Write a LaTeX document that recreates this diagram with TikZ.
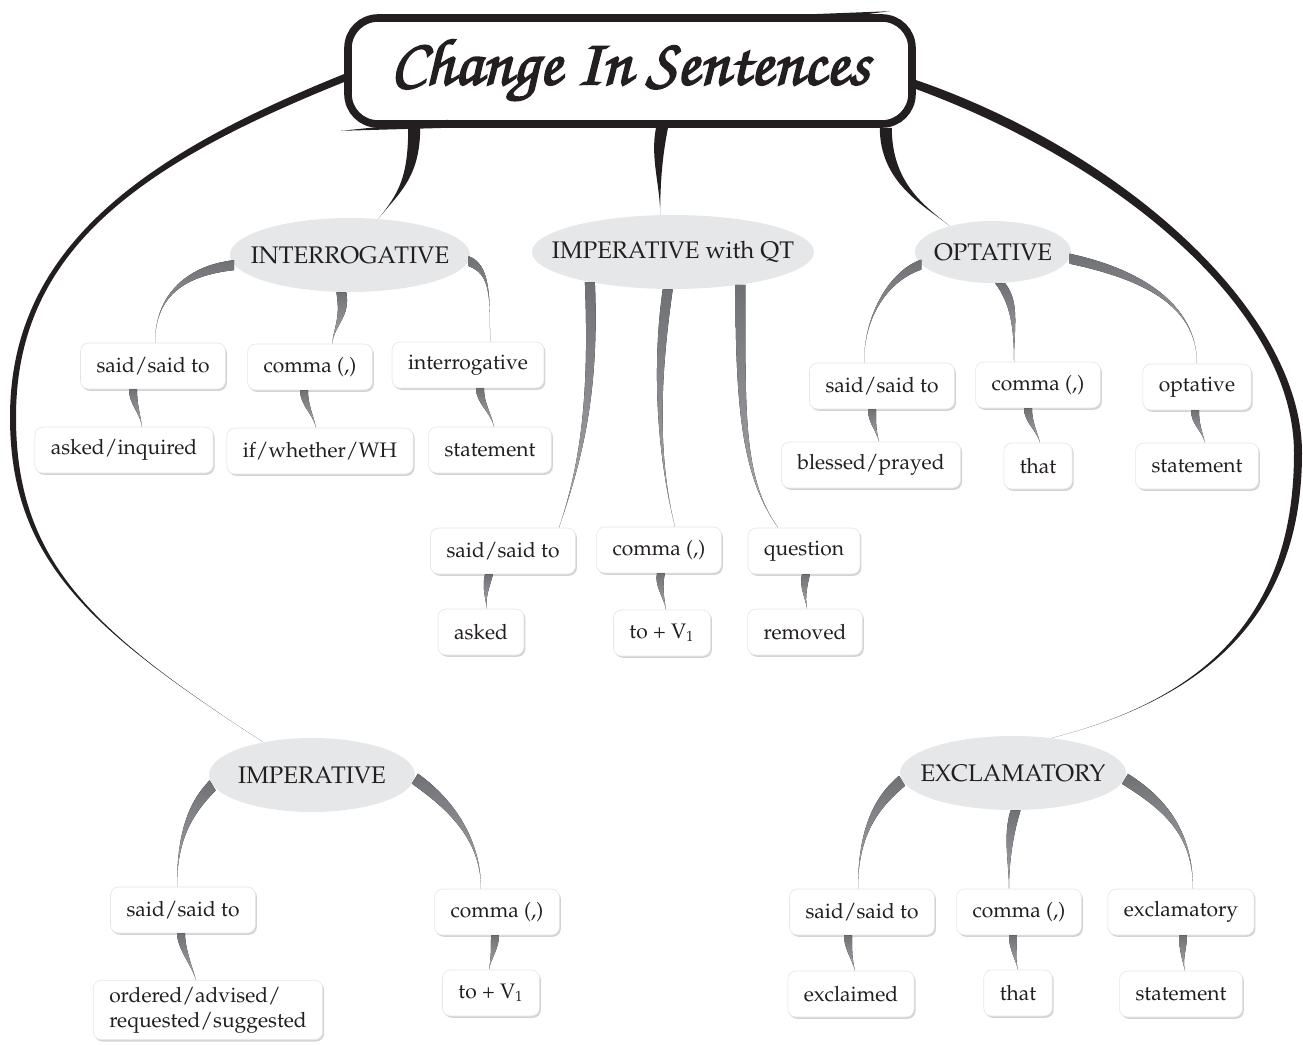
\documentclass[tikz,border=0pt]{standalone}
\usepackage[T1]{fontenc}
\renewcommand{\rmdefault}{ppl}
\usetikzlibrary{shapes.geometric,shadows,calc}
\definecolor{catgray}{HTML}{E6E7E8}
\definecolor{twiggray}{HTML}{707174}
\definecolor{twiglight}{HTML}{A7A9AC}
\definecolor{ink}{HTML}{231F20}
\newcommand{\heavy}[1]{\special{pdf:literal direct 2 Tr 0.9 w}#1\special{pdf:literal direct 0 Tr 0.4 w}}
\tikzset{
  cat/.style={ellipse, fill=catgray, inner sep=-20pt, text=ink, font=\fontsize{12}{14}\selectfont},
  leaf/.style={rectangle, rounded corners=4pt, fill=white, draw=black!10, line width=0.3pt, inner xsep=8pt,
    minimum height=23pt, text=ink, font=\fontsize{10.5}{12.5}\selectfont,
    drop shadow={shadow xshift=0.7pt, shadow yshift=-0.9pt, opacity=0.35}},
  headline/.style={draw=ink, line width=3.8pt, rounded corners=15pt, fill=white, minimum width=282pt,
    minimum height=53pt, text=ink, font=\fontfamily{pzc}\fontsize{33}{33}\selectfont},
  twig/.style={top color=twiggray, bottom color=twiglight},
  trunk/.style={fill=ink},
}
% tapered connector: [style]{from}{to}{ctrl from}{ctrl to}{half width}
\newcommand{\sprout}[6][twig]{\fill[#1] ($(#2)+#6$) .. controls +#4 and +#5 .. (#3)
  .. controls +#5 and +#4 .. ($(#2)-#6$) -- cycle;}
\begin{document}
\begin{tikzpicture}[x=0.5pt,y=-0.5pt]
\useasboundingbox (0,0) rectangle (1303,1045);
\node[headline] (title) at (630,71) {\heavy{Change In Sentences}};
% brush ends of the frame
\fill[trunk] ($(title.north east)+(-104,0)$) -- ($(title.north east)+(-26,-3)$) -- ($(title.north east)+(-104,7)$) -- cycle;
\fill[trunk] ($(title.south west)+(104,-8)$) -- ($(title.south west)+(-3,3)$) -- ($(title.south west)+(104,0)$) -- cycle;

% categories
\node[cat, minimum width=120pt, minimum height=37pt] (int) at (350,255) {INTERROGATIVE};
\node[cat, minimum width=141pt, minimum height=37pt] (iqt) at (673,252) {IMPERATIVE with QT};
\node[cat, minimum width=78pt, minimum height=31pt] (opt) at (993,252) {OPTATIVE};
\node[cat, minimum width=103pt, minimum height=37pt] (imp) at (312,775) {IMPERATIVE};
\node[cat, minimum width=113pt, minimum height=37pt] (exc) at (1013,773) {EXCLAMATORY};

% interrogative
\node[leaf] (i1) at (153,366) {said/said to};
\node[leaf] (i2) at (310,367) {comma (,)};
\node[leaf] (i3) at (468,365) {interrogative};
\node[leaf] (i4) at (124,450) {asked/inquired};
\node[leaf] (i5) at (320,451) {if/whether/WH};
\node[leaf] (i6) at (490,450) {statement};
% imperative with QT
\node[leaf] (q1) at (503,551) {said/said to};
\node[leaf] (q2) at (659,550) {comma (,)};
\node[leaf] (q3) at (804,551) {question};
\node[leaf] (q4) at (481,632) {asked};
\node[leaf] (q5) at (662,633) {to + V\textsubscript{1}};
\node[leaf] (q6) at (805,632) {removed};
% optative
\node[leaf] (o1) at (882,386) {said/said to};
\node[leaf] (o2) at (1038,385) {comma (,)};
\node[leaf] (o3) at (1197,387) {optative};
\node[leaf] (o4) at (871,465) {blessed/prayed};
\node[leaf] (o5) at (1038,466) {that};
\node[leaf] (o6) at (1197,466) {statement};
% imperative
\node[leaf] (m1) at (183,910) {said/said to};
\node[leaf] (m2) at (497,912) {comma (,)};
\node[leaf, align=left] (m3) at (208,1010) {ordered/advised/\\requested/suggested};
\node[leaf] (m4) at (491,993) {to + V\textsubscript{1}};
% exclamatory
\node[leaf] (e1) at (862,912) {said/said to};
\node[leaf] (e2) at (1019,912) {comma (,)};
\node[leaf] (e3) at (1181,912) {exclamatory};
\node[leaf] (e4) at (851,994) {exclaimed};
\node[leaf] (e5) at (1018,993) {that};
\node[leaf] (e6) at (1181,994) {statement};

% black trunks from the title
\coordinate (tl) at ($(title.south west)+(70,0)$);
\coordinate (tm) at ($(title.south)+(32,0)$);
\coordinate (tr) at ($(title.south east)+(-30,0)$);
\sprout[trunk]{tl}{int.52}{(0,50)}{(20,-25)}{(6,0)}
\sprout[trunk]{tm}{iqt.109}{(-6,30)}{(0,-30)}{(6,0)}
\sprout[trunk]{tr}{opt.149}{(0,55)}{(-25,-20)}{(6,0)}
\coordinate (lbend) at (13,417);
\coordinate (rbend) at (1298,453);
\fill[trunk] ($(title.west)+(0,3)$) .. controls (140,156) and (10,250) .. ($(lbend)+(-3,0)$)
  .. controls (10,560) and (90,630) .. (imp.146) .. controls (90,630) and (16,560) .. ($(lbend)+(3,0)$)
  .. controls (16,250) and (140,164) .. ($(title.west)+(0,11)$) -- cycle;
\fill[trunk] ($(title.east)+(0,9)$) .. controls (1120,150) and (1302,310) .. ($(rbend)+(4,0)$)
  .. controls (1302,620) and (1200,700) .. (exc.42) .. controls (1200,700) and (1294,620) .. ($(rbend)+(-4,0)$)
  .. controls (1294,310) and (1120,164) .. ($(title.east)+(0,18)$) -- cycle;

% grey twigs
\sprout{int.185}{[xshift=1pt]i1.north}{(-45,5)}{(0,-50)}{(0,5)}
\sprout{int.257}{[xshift=11pt]i2.north}{(4,25)}{(3,-20)}{(5,0)}
\sprout{int.357}{[xshift=11pt]i3.north}{(22,8)}{(0,-45)}{(0,5)}
\sprout{[xshift=-10pt]i1.south}{[xshift=9pt]i4.north}{(0,15)}{(-2,-14)}{(4,0)}
\sprout{[xshift=-3pt]i2.south}{[xshift=-2pt]i5.north}{(0,15)}{(-3,-14)}{(4,0)}
\sprout{[xshift=6pt]i3.south}{[xshift=2pt]i6.north}{(0,15)}{(-3,-14)}{(4,0)}

\sprout{iqt.200}{[xshift=28pt]q1.north}{(5,120)}{(20,-60)}{(5,0)}
\sprout{iqt.262}{[xshift=8pt]q2.north}{(-10,70)}{(-20,-80)}{(5,0)}
\sprout{iqt.334}{[xshift=-13pt]q3.north}{(0,130)}{(-35,-50)}{(5,0)}
\sprout{[xshift=-7pt]q1.south}{[xshift=3pt]q4.north}{(-3,12)}{(-2,-12)}{(4,0)}
\sprout{[xshift=1pt]q2.south}{[xshift=2pt]q5.north}{(-3,12)}{(-2,-12)}{(4,0)}
\sprout{[xshift=1pt]q3.south}{[xshift=1pt]q6.north}{(-3,12)}{(-2,-12)}{(4,0)}

\sprout{opt.190}{[xshift=-9pt]o1.north}{(-30,10)}{(0,-50)}{(0,5)}
\sprout{opt.283}{[xshift=-12pt]o2.north}{(15,20)}{(0,-35)}{(5,0)}
\sprout{opt.355}{o3.north}{(70,15)}{(0,-60)}{(0,5)}
\sprout{[xshift=-5pt]o1.south}{[xshift=4pt]o4.north}{(0,14)}{(-3,-12)}{(4,0)}
\sprout{[xshift=-5pt]o2.south}{[xshift=1pt]o5.north}{(0,14)}{(-3,-12)}{(4,0)}
\sprout{[xshift=-1pt]o3.south}{[xshift=4pt]o6.north}{(0,14)}{(-3,-12)}{(4,0)}

\sprout{imp.186}{[xshift=-3pt]m1.north}{(-25,25)}{(0,-45)}{(3,5)}
\sprout{imp.358}{[xshift=-8pt]m2.north}{(35,25)}{(0,-50)}{(-3,5)}
\sprout{[xshift=-1pt]m1.south}{[xshift=-6pt]m3.north}{(0,15)}{(-4,-14)}{(4,0)}
\sprout{[xshift=-1pt]m2.south}{[xshift=-1pt]m4.north}{(0,14)}{(2,-12)}{(4,0)}

\sprout{exc.184}{[xshift=-2pt]e1.north}{(-30,25)}{(0,-50)}{(3,5)}
\sprout{exc.274}{[xshift=-5pt]e2.north}{(-8,25)}{(0,-25)}{(5,0)}
\sprout{exc.357}{[xshift=6pt]e3.north}{(40,25)}{(0,-55)}{(-3,5)}
\sprout{[xshift=-7pt]e1.south}{[xshift=2pt]e4.north}{(0,14)}{(-3,-12)}{(4,0)}
\sprout{[xshift=-3pt]e2.south}{e5.north}{(0,14)}{(-3,-12)}{(4,0)}
\sprout{[xshift=1pt]e3.south}{[xshift=2pt]e6.north}{(0,14)}{(-3,-12)}{(4,0)}
\end{tikzpicture}
\end{document}
